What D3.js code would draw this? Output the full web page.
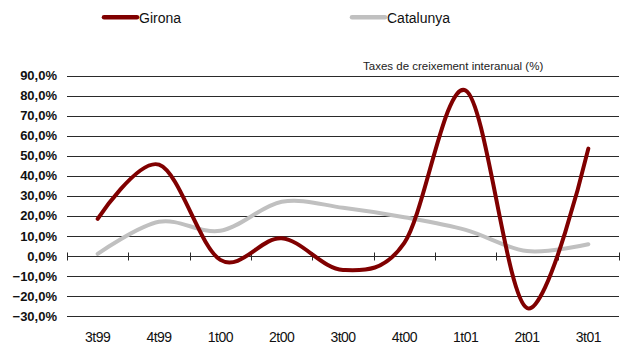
<!DOCTYPE html>
<html>
<head>
<meta charset="utf-8">
<script src="https://cdn.jsdelivr.net/npm/d3@7/dist/d3.min.js"></script>
<style>
  html, body { margin: 0; padding: 0; background: #fff; }
  svg { display: block; }
  text { font-family: "Liberation Sans", Arial, sans-serif; fill: #111; }
</style>
</head>
<body>
<svg id="chart" width="630" height="360"></svg>
<script>
// Quarterly year-on-year growth rates
const quarters = ["3t99", "4t99", "1t00", "2t00", "3t00", "4t00", "1t01", "2t01", "3t01"];
const girona    = [18.5, 45.5, -2.0, 8.8, -7.0, 6.5, 82.5, -26.0, 53.5];
const catalunya = [1.0, 17.0, 12.5, 27.0, 24.0, 19.3, 13.0, 2.4, 5.8];
const yTicks = [90, 80, 70, 60, 50, 40, 30, 20, 10, 0, -10, -20, -30];
const seriesNames = ["Girona", "Catalunya"];
const seriesColors = ["#800000", "#c0c0c0"];
const subtitle = "Taxes de creixement interanual (%)";

const svg = d3.select("#chart");
const plotLeft = 67, plotRight = 619, plotTop = 75.5, plotBottom = 316;

const x = d3.scaleBand().domain(quarters).range([plotLeft, plotRight]).paddingInner(0).paddingOuter(0);
const y = d3.scaleLinear().domain([-30, 90]).range([plotBottom, plotTop]);

const fmt = v => d3.format(".1f")(v).replace(".", ",") + "%";

// Horizontal gridlines
svg.append("g").selectAll("line").data(yTicks).join("line")
  .attr("x1", plotLeft).attr("x2", plotRight)
  .attr("y1", d => Math.round(y(d)) + 0.5).attr("y2", d => Math.round(y(d)) + 0.5)
  .attr("stroke", "#2a2a2a").attr("stroke-width", 1);

// Y axis labels
svg.append("g").selectAll("text").data(yTicks).join("text")
  .attr("x", 57).attr("y", d => y(d)).attr("dy", "0.36em")
  .attr("text-anchor", "end")
  .style("font-size", "13px").style("font-weight", "bold")
  .text(fmt);

// Category tick marks on the zero line
const boundaries = quarters.map(q => x(q)).concat([x(quarters[quarters.length - 1]) + x.bandwidth()]);
const y0 = Math.round(y(0)) + 0.5;
svg.append("g").selectAll("line").data(boundaries).join("line")
  .attr("x1", d => Math.round(d) + 0.5).attr("x2", d => Math.round(d) + 0.5)
  .attr("y1", y0 - 4).attr("y2", y0 + 4)
  .attr("stroke", "#2a2a2a").attr("stroke-width", 1);

// X axis labels
svg.append("g").selectAll("text").data(quarters).join("text")
  .attr("x", d => x(d) + x.bandwidth() / 2).attr("y", 341.5)
  .attr("text-anchor", "middle")
  .style("font-size", "14px").style("letter-spacing", "-0.5px")
  .text(d => d);

// Series lines (smoothed)
const line = d3.line()
  .x((d, i) => x(quarters[i]) + x.bandwidth() / 2)
  .y(d => y(d))
  .curve(d3.curveCatmullRom.alpha(0));

[[catalunya, 1], [girona, 0]].forEach(([vals, idx]) => {
  svg.append("path").datum(vals)
    .attr("d", line)
    .attr("fill", "none")
    .attr("stroke", seriesColors[idx])
    .attr("stroke-width", 4)
    .attr("stroke-linejoin", "round")
    .attr("stroke-linecap", "round");
});

// Subtitle
svg.append("text").attr("x", 363).attr("y", 69.5)
  .style("font-size", "11.5px").style("fill", "#222")
  .text(subtitle);

// Legend
const legendX = [104, 352];
seriesNames.forEach((name, i) => {
  const g = svg.append("g");
  g.append("line")
    .attr("x1", legendX[i]).attr("x2", legendX[i] + 33)
    .attr("y1", 17.3).attr("y2", 17.3)
    .attr("stroke", seriesColors[i]).attr("stroke-width", 4.5)
    .attr("stroke-linecap", "round");
  g.append("text").attr("x", legendX[i] + 35).attr("y", 22.8)
    .style("font-size", "14px")
    .text(name);
});
</script>
</body>
</html>
